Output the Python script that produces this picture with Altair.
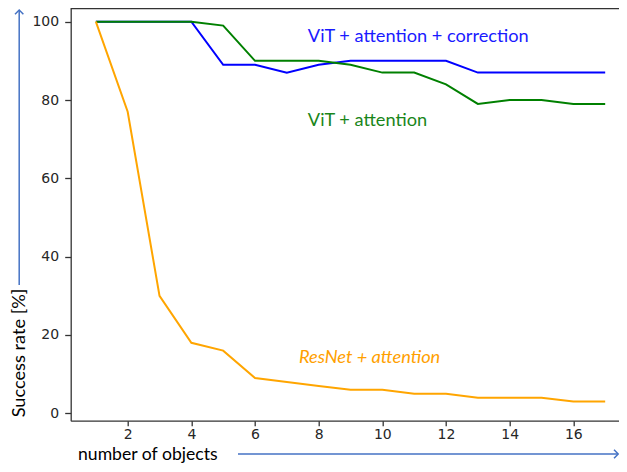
import altair as alt
import pandas as pd

# ---- data ----
n_objects = list(range(1, 18))
vit_att_corr = [100, 100, 100, 100, 89, 89, 87, 89, 90, 90, 90, 90, 87, 87, 87, 87, 87]
vit_att = [100, 100, 100, 100, 99, 90, 90, 90, 89, 87, 87, 84, 79, 80, 80, 79, 79]
resnet_att = [100, 77, 30, 18, 16, 9, 8, 7, 6, 6, 5, 5, 4, 4, 4, 3, 3]

series_names = ["ViT + attention + correction", "ViT + attention", "ResNet + attention"]
series_colors = ["#0000ff", "#008000", "#ffa500"]
text_colors = ["#1a1aff", "#1a861a", "#ffa000"]

label_x = [7.66, 7.66, 7.38]
label_y = [94.9, 73.4, 12.9]

x_ticks = [2, 4, 6, 8, 10, 12, 14, 16]
y_ticks = [0, 20, 40, 60, 80, 100]

x_title = "number of objects"
y_title = "Success rate [%]"

# ---- tables ----
rows = []
for name, vals in zip(series_names, [vit_att_corr, vit_att, resnet_att]):
    for n, v in zip(n_objects, vals):
        rows.append({"n": n, "rate": v, "series": name})
df = pd.DataFrame(rows)

labels = pd.DataFrame({"x": label_x, "y": label_y, "text": series_names, "color": text_colors})
one = pd.DataFrame({"k": [0]})

W, H = 548.3, 412.7
AX = "#333333"
ARROW = "#4472c4"
FONT = "Lato"
FS = 18.2

xs = alt.Scale(domain=[0.21, 17.434], nice=False, zero=False)
ys = alt.Scale(domain=[-1.89, 103.5], nice=False, zero=False)

lines = alt.Chart(df).mark_line(strokeWidth=2).encode(
    x=alt.X("n:Q", scale=xs, axis=alt.Axis(values=x_ticks, title=None, grid=False,
                                            domainColor=AX, domainWidth=1.3, tickColor=AX,
                                            tickWidth=1.3, tickSize=5, labelFont="DejaVu Sans",
                                            labelFontSize=14, labelColor="#262626",
                                            labelPadding=2)),
    y=alt.Y("rate:Q", scale=ys, axis=alt.Axis(values=y_ticks, title=None, grid=False,
                                               domainColor=AX, domainWidth=1.3, tickColor=AX,
                                               tickWidth=1.3, tickSize=6, labelFont="DejaVu Sans",
                                               labelFontSize=14, labelColor="#262626",
                                               labelPadding=6)),
    color=alt.Color("series:N", scale=alt.Scale(domain=series_names, range=series_colors), legend=None),
    detail="series:N",
)

normal_labels = alt.Chart(labels.iloc[:2]).mark_text(
    align="left", baseline="alphabetic", font=FONT, fontSize=FS
).encode(x=alt.X("x:Q", scale=xs), y=alt.Y("y:Q", scale=ys),
         text="text:N", color=alt.Color("color:N", scale=None))

italic_labels = alt.Chart(labels.iloc[2:]).mark_text(
    align="left", baseline="alphabetic", font=FONT, fontSize=FS, fontStyle="italic"
).encode(x=alt.X("x:Q", scale=xs), y=alt.Y("y:Q", scale=ys),
         text="text:N", color=alt.Color("color:N", scale=None))

# top frame line
top_border = alt.Chart(one).mark_rule(color=AX, strokeWidth=1.3).encode(
    x=alt.value(0), x2=alt.value(W), y=alt.value(0.7))

# axis titles as free text with arrows
xt = alt.Chart(one).mark_text(align="left", baseline="middle", font=FONT, fontSize=17.6,
                              color="#000000").encode(
    x=alt.value(7.3), y=alt.value(447.0), text=alt.value(x_title))
yt = alt.Chart(one).mark_text(align="center", baseline="middle", font=FONT, fontSize=FS,
                              color="#000000", angle=270).encode(
    x=alt.value(-51.0), y=alt.value(345), text=alt.value(y_title))

x_arrow = alt.Chart(one).mark_rule(color=ARROW, strokeWidth=1.5).encode(
    x=alt.value(167.3), x2=alt.value(547.0), y=alt.value(446.0))
x_head = alt.Chart(one).mark_point(shape="M-1,-1L0,0L-1,1", filled=False, color=ARROW,
                                   strokeWidth=1.5, size=70, opacity=1).encode(
    x=alt.value(547.5), y=alt.value(446.0))
y_arrow = alt.Chart(one).mark_rule(color=ARROW, strokeWidth=1.5).encode(
    x=alt.value(-51.5), y=alt.value(277), y2=alt.value(2.5))
y_head = alt.Chart(one).mark_point(shape="M-1,1L0,0L1,1", filled=False, color=ARROW,
                                   strokeWidth=1.5, size=70, opacity=1).encode(
    x=alt.value(-51.5), y=alt.value(2))

chart = alt.layer(
    top_border, lines, normal_labels, italic_labels, xt, yt, x_arrow, x_head, y_arrow, y_head
).properties(
    width=W, height=H,
    autosize=alt.AutoSizeParams(type="none"),
    padding={"left": 62.7, "top": 0, "right": 0, "bottom": 42.3},
    background="white",
).configure_view(stroke=None)

chart.save("out.html", embed_options={"renderer": "svg", "actions": False})
